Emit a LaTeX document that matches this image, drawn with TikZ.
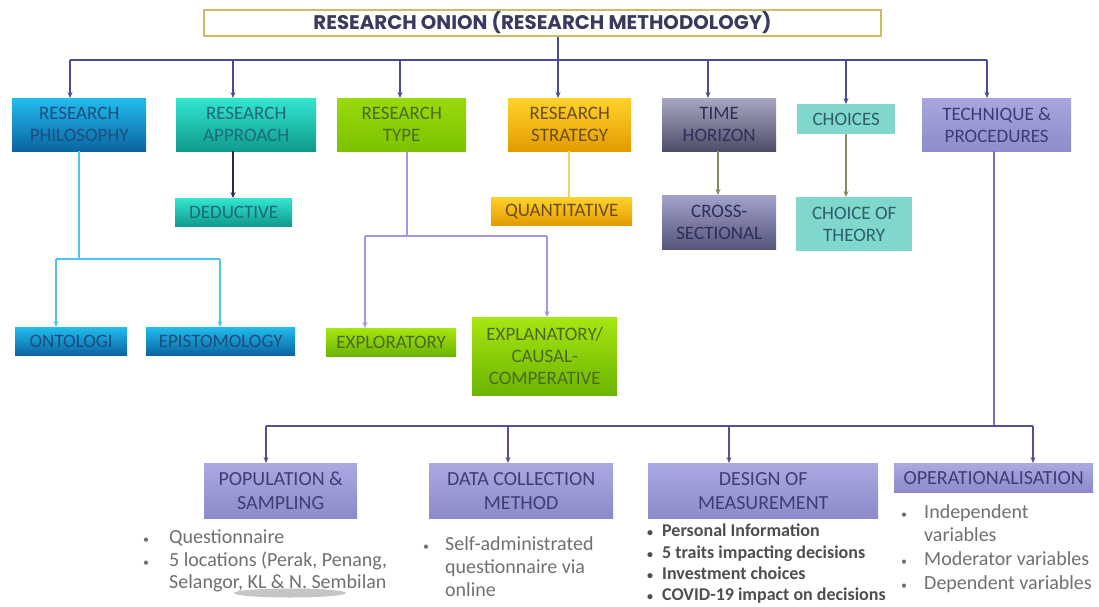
\documentclass[tikz,border=0pt]{standalone}
\usepackage{fontspec}
\setmainfont{Carlito}
\newfontfamily\titlefont{Poppins}
\usetikzlibrary{arrows.meta}
\definecolor{titleC}{HTML}{CBBD63}
\definecolor{titleTx}{HTML}{3A3A5E}
\definecolor{philT}{HTML}{22BCEE}
\definecolor{philB}{HTML}{0A64A0}
\definecolor{philTx}{HTML}{1B4D80}
\definecolor{apprT}{HTML}{33E6D0}
\definecolor{apprB}{HTML}{0E9A8C}
\definecolor{apprTx}{HTML}{1D6A78}
\definecolor{typeT}{HTML}{98DA0C}
\definecolor{typeB}{HTML}{7CC200}
\definecolor{typeTx}{HTML}{4B6A1A}
\definecolor{stratT}{HTML}{FFD22A}
\definecolor{stratB}{HTML}{E39C00}
\definecolor{stratTx}{HTML}{6C4C14}
\definecolor{timeT}{HTML}{A7A7C2}
\definecolor{timeB}{HTML}{4D4D68}
\definecolor{timeTx}{HTML}{2E2E5E}
\definecolor{choiceC}{HTML}{80D8CC}
\definecolor{choiceTx}{HTML}{2C5E6E}
\definecolor{techT}{HTML}{A8A6DC}
\definecolor{techB}{HTML}{8E8CCA}
\definecolor{techTx}{HTML}{3B3B78}
\definecolor{crossT}{HTML}{A2A2CC}
\definecolor{crossB}{HTML}{55557A}
\definecolor{explT}{HTML}{A6E612}
\definecolor{explB}{HTML}{6CB400}
\definecolor{botT}{HTML}{ABA9E2}
\definecolor{botB}{HTML}{8C8AC8}
\definecolor{botTx}{HTML}{3E3E74}
\definecolor{busC}{HTML}{4A4A9C}
\definecolor{bus2C}{HTML}{56508E}
\definecolor{philL}{HTML}{4CC6EE}
\definecolor{apprL}{HTML}{2A2A48}
\definecolor{typeL}{HTML}{A595E4}
\definecolor{stratL}{HTML}{F2D36A}
\definecolor{oliveL}{HTML}{8C8A5A}
\definecolor{techL}{HTML}{7A6CBC}
\definecolor{bulTx}{HTML}{707070}
\definecolor{desTx}{HTML}{4E4E4E}
\newcommand\mybul[1]{\makebox[#1][l]{{\fontsize{12}{12}\selectfont\textbullet}}}
\begin{document}
\begin{tikzpicture}[x=1pt,y=-1pt,
  box/.style={anchor=north west, inner sep=0pt, align=center, font=\fontsize{19}{22}\selectfont},
  bbox/.style={box, font=\fontsize{20}{24}\selectfont, top color=botT, bottom color=botB, text=botTx},
  tip/.style={-{Stealth[length=6pt,width=5pt]}},
  bus/.style={draw=busC, line width=2.4pt},
  busarr/.style={bus, tip},
  bus2/.style={draw=bus2C, line width=2.4pt},
  bus2arr/.style={bus2, tip},
  phl/.style={draw=philL, line width=2pt},
  apl/.style={draw=apprL, line width=2pt, tip},
  tyl/.style={draw=typeL, line width=1.6pt},
  stl/.style={draw=stratL, line width=1.6pt},
  oll/.style={draw=oliveL, line width=2pt, tip},
  tel/.style={draw=techL, line width=2pt},
  bl/.style={anchor=base west, inner sep=0pt, text=bulTx, font=\fontsize{20}{22}\selectfont},
  dl/.style={anchor=base west, inner sep=0pt, text=desTx, font=\fontsize{18}{22}\selectfont\bfseries}
]
\useasboundingbox (0,0) rectangle (1099,606);
\fill[white] (0,0) rectangle (1099,606);

% title
\node[box, minimum width=677pt, minimum height=26pt, draw=titleC, line width=2pt, fill=white, text=titleTx] (title) at (203,9)
  {\resizebox{458pt}{!}{\titlefont\bfseries RESEARCH ONION (RESEARCH METHODOLOGY)}};

% top row
\node[box, minimum width=134pt, minimum height=53pt, top color=philT, bottom color=philB, text=philTx] (phil) at (12,98) {RESEARCH\\PHILOSOPHY};
\node[box, minimum width=140pt, minimum height=53pt, top color=apprT, bottom color=apprB, text=apprTx] (appr) at (176,98) {RESEARCH\\APPROACH};
\node[box, minimum width=129pt, minimum height=53pt, top color=typeT, bottom color=typeB, text=typeTx] (rtype) at (337,98) {RESEARCH\\TYPE};
\node[box, minimum width=123pt, minimum height=53pt, top color=stratT, bottom color=stratB, text=stratTx] (strat) at (508,98) {RESEARCH\\STRATEGY};
\node[box, minimum width=114pt, minimum height=53pt, top color=timeT, bottom color=timeB, text=timeTx] (time) at (662,98) {TIME\\HORIZON};
\node[box, minimum width=98pt, minimum height=30pt, fill=choiceC, text=choiceTx] (choices) at (797,104) {CHOICES};
\node[box, minimum width=149pt, minimum height=53pt, top color=techT, bottom color=techB, text=techTx] (tech) at (922,98) {TECHNIQUE \&\\PROCEDURES};

% second row
\node[box, minimum width=117pt, minimum height=28pt, top color=apprT, bottom color=apprB, text=apprTx] (ded) at (175,198) {DEDUCTIVE};
\node[box, minimum width=141pt, minimum height=28pt, top color=stratT, bottom color=stratB, text=stratTx] (quant) at (491,197) {QUANTITATIVE};
\node[box, minimum width=114pt, minimum height=54pt, top color=crossT, bottom color=crossB, text=timeTx] (cross) at (662,195) {CROSS-\\SECTIONAL};
\node[box, minimum width=116pt, minimum height=54pt, fill=choiceC, text=choiceTx] (theory) at (796,197) {CHOICE OF\\THEORY};

% third row
\node[box, minimum width=112pt, minimum height=28pt, top color=philT, bottom color=philB, text=philTx] (onto) at (15,327) {ONTOLOGI};
\node[box, minimum width=149pt, minimum height=28pt, top color=philT, bottom color=philB, text=philTx] (epis) at (146,327) {EPISTOMOLOGY};
\node[box, minimum width=130pt, minimum height=28pt, top color=explT, bottom color=explB, text=typeTx] (explo) at (326,328) {EXPLORATORY};
\node[box, minimum width=145pt, minimum height=78pt, top color=explT, bottom color=explB, text=typeTx] (expla) at (472,317) {EXPLANATORY/\\CAUSAL-\\COMPERATIVE};

% bottom row
\node[bbox, minimum width=153pt, minimum height=55pt] (pop) at (204,463) {POPULATION \&\\SAMPLING};
\node[bbox, minimum width=184pt, minimum height=55pt] (data) at (429,463) {DATA COLLECTION\\METHOD};
\node[bbox, minimum width=230pt, minimum height=55pt] (design) at (648,463) {DESIGN OF\\MEASUREMENT};
\node[bbox, minimum width=199pt, minimum height=29pt] (oper) at (894,463) {OPERATIONALISATION};

% coordinates
\coordinate (tj) at (558,60);
\coordinate (b1) at (70,60);
\coordinate (b2) at (233,60);
\coordinate (b3) at (400,60);
\coordinate (b4) at (558,60);
\coordinate (b5) at (708,60);
\coordinate (b6) at (846,60);
\coordinate (b7) at (987,60);
\coordinate (pv) at (79,259);
\coordinate (pl) at (56,259);
\coordinate (pr) at (220,259);
\coordinate (tv) at (407,236);
\coordinate (tl) at (365,236);
\coordinate (tr) at (547,236);
\coordinate (sx) at (569,0);
\coordinate (hx) at (718,0);
\coordinate (tq) at (994,426);
\coordinate (c1) at (266,426);
\coordinate (c2) at (508,426);
\coordinate (c3) at (729,426);
\coordinate (c4) at (1033,426);

% top bus
\draw[bus] (title.south -| tj) -- (tj);
\draw[bus] (b1) -- (b7);
\foreach \c/\n in {b1/phil,b2/appr,b3/rtype,b4/strat,b5/time,b6/choices,b7/tech}
  \draw[busarr] (\c) -- (\c |- \n.north);

% philosophy
\draw[phl] (phil.south -| pv) -- (pv);
\draw[phl] (pl) -- (pr);
\draw[phl, tip] (pl) -- (pl |- onto.north);
\draw[phl, tip] (pr) -- (pr |- epis.north);

% approach
\draw[apl] (appr.south -| b2) -- (ded.north -| b2);

% type
\draw[tyl] (rtype.south -| tv) -- (tv);
\draw[tyl] (tl) -- (tr);
\draw[tyl, tip] (tl) -- (tl |- explo.north);
\draw[tyl, tip] (tr) -- (tr |- expla.north);

% strategy
\draw[stl] (strat.south -| sx) -- (quant.north -| sx);

% time, choices
\draw[oll] (time.south -| hx) -- (cross.north -| hx);
\draw[oll] (choices.south -| b6) -- (theory.north -| b6);

% technique
\draw[tel] (tech.south -| tq) -- (tq);
\draw[bus2] (c1) -- (c4);
\foreach \c/\n in {c1/pop,c2/data,c3/design,c4/oper}
  \draw[bus2arr] (\c) -- (\c |- \n.north);

% smudge
\fill[gray!75, opacity=0.6] (290,593) ellipse [x radius=56, y radius=4.5];

% bullets
\node[bl] (pop1) at (143,543) {\mybul{26pt}Questionnaire};
\node[bl] (pop2) at (143,566) {\mybul{26pt}5 locations (Perak, Penang,};
\node[bl] (pop3) at (143,588) {\hspace*{26pt}Selangor, KL \& N. Sembilan};

\node[bl] (dat1) at (423,550) {\mybul{22pt}Self-administrated};
\node[bl] (dat2) at (423,573) {\hspace*{22pt}questionnaire via};
\node[bl] (dat3) at (423,596) {\hspace*{22pt}online};

\node[dl] (des1) at (647,536) {\mybul{15pt}Personal Information};
\node[dl] (des2) at (647,558) {\mybul{15pt}5 traits impacting decisions};
\node[dl] (des3) at (647,579) {\mybul{15pt}Investment choices};
\node[dl] (des4) at (647,600) {\mybul{15pt}COVID-19 impact on decisions};

\node[bl] (op1) at (901,518) {\mybul{23pt}Independent};
\node[bl] (op2) at (901,541) {\hspace*{23pt}variables};
\node[bl] (op3) at (901,565) {\mybul{23pt}Moderator variables};
\node[bl] (op4) at (901,589) {\mybul{23pt}Dependent variables};
\end{tikzpicture}
\end{document}
